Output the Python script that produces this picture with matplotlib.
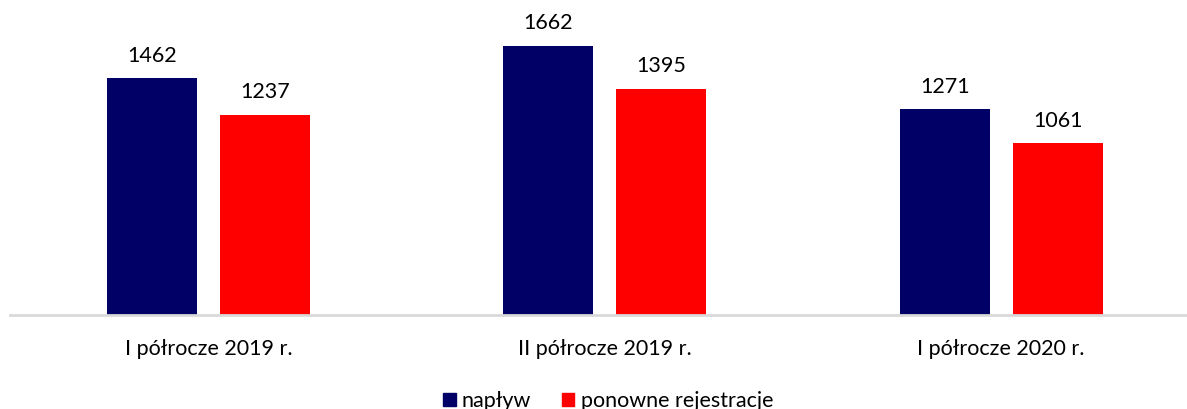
import matplotlib
matplotlib.use("Agg")
import matplotlib.pyplot as plt
from matplotlib.patches import Patch
import numpy as np

categories = ["I półrocze 2019 r.", "II półrocze 2019 r.", "I półrocze 2020 r."]
naplyw = [1462, 1662, 1271]
ponowne = [1237, 1395, 1061]
series_names = ["napływ", "ponowne rejestracje"]
colors = ["#000066", "#ff0000"]

plt.rcParams['font.family'] = ['Lato', 'DejaVu Sans']

W, H = 1187, 409
fig = plt.figure(figsize=(W / 100, H / 100), dpi=100)
ax = fig.add_axes([10 / W, (H - 315) / H, (W - 10) / W, 315 / H])

x = np.arange(len(categories))
bw = 0.227
off = 0.1425
b1 = ax.bar(x - off, naplyw, bw, color=colors[0], label=series_names[0])
b2 = ax.bar(x + off, ponowne, bw, color=colors[1], label=series_names[1])

for bars, vals in ((b1, naplyw), (b2, ponowne)):
    for rect, v in zip(bars, vals):
        ax.annotate(str(v), (rect.get_x() + rect.get_width() / 2, rect.get_height()),
                    xytext=(0, 9), textcoords="offset points",
                    ha="center", va="bottom", fontsize=15.5, color="#000000")

ax.set_xlim(-0.5006, 2.469)
ax.set_ylim(0, 1944)
ax.set_xticks(x)
ax.set_xticklabels(categories, fontsize=15.5)
ax.tick_params(axis="x", length=0, pad=17.5)
ax.set_yticks([])
for s in ("top", "right", "left"):
    ax.spines[s].set_visible(False)
ax.spines["bottom"].set_color("#d9d9d9")
ax.spines["bottom"].set_linewidth(2)

handles = [Patch(color=c, label=n) for c, n in zip(colors, series_names)]
fig.legend(handles=handles, loc="center", bbox_to_anchor=(608 / W, 1 - 401 / H),
           ncol=2, frameon=False, fontsize=15.5, handlelength=0.6, handleheight=0.6,
           handletextpad=0.3, columnspacing=1.4, borderaxespad=0, borderpad=0)

fig.savefig("out.png", dpi=100)
